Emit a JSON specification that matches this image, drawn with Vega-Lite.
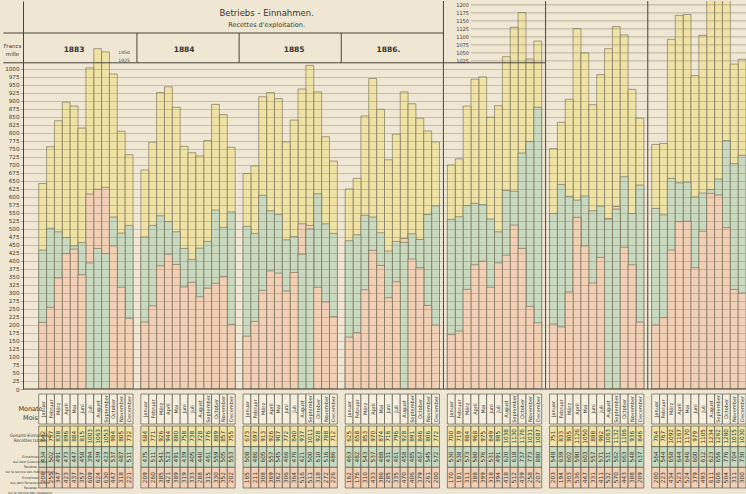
{
"$schema":"https://vega.github.io/schema/vega-lite/v6.json",
"background":"#efe7d3",
"padding":0,
"spacing":0,
"config":{"view":{"stroke":null},"font":"DejaVu Sans","concat":{"spacing":0}},
"datasets":{
"main":[
{"ym":"1883-01","mn":"Januar","t":642,"g":434,"p":208},
{"ym":"1883-02","mn":"Februar","t":757,"g":502,"p":255},
{"ym":"1883-03","mn":"März","t":838,"g":491,"p":347},
{"ym":"1883-04","mn":"April","t":896,"g":473,"p":423},
{"ym":"1883-05","mn":"Mai","t":884,"g":447,"p":437},
{"ym":"1883-06","mn":"Juni","t":815,"g":458,"p":357},
{"ym":"1883-07","mn":"Juli","t":1003,"g":394,"p":609},
{"ym":"1883-08","mn":"August","t":1063,"g":439,"p":624},
{"ym":"1883-09","mn":"September","t":1053,"g":423,"p":630},
{"ym":"1883-10","mn":"October","t":984,"g":537,"p":447},
{"ym":"1883-11","mn":"November","t":805,"g":487,"p":318},
{"ym":"1883-12","mn":"December","t":732,"g":511,"p":221},
{"ym":"1884-01","mn":"Januar","t":684,"g":475,"p":209},
{"ym":"1884-02","mn":"Februar","t":771,"g":511,"p":260},
{"ym":"1884-03","mn":"März","t":926,"g":541,"p":385},
{"ym":"1884-04","mn":"April","t":944,"g":523,"p":421},
{"ym":"1884-05","mn":"Mai","t":880,"g":491,"p":389},
{"ym":"1884-06","mn":"Juni","t":758,"g":439,"p":319},
{"ym":"1884-07","mn":"Juli","t":738,"g":405,"p":333},
{"ym":"1884-08","mn":"August","t":728,"g":440,"p":288},
{"ym":"1884-09","mn":"September","t":776,"g":461,"p":315},
{"ym":"1884-10","mn":"October","t":889,"g":559,"p":330},
{"ym":"1884-11","mn":"November","t":857,"g":505,"p":352},
{"ym":"1884-12","mn":"December","t":755,"g":553,"p":202},
{"ym":"1885-01","mn":"Januar","t":673,"g":508,"p":165},
{"ym":"1885-02","mn":"Februar","t":697,"g":486,"p":211},
{"ym":"1885-03","mn":"März","t":913,"g":605,"p":308},
{"ym":"1885-04","mn":"April","t":926,"g":557,"p":369},
{"ym":"1885-05","mn":"Mai","t":907,"g":545,"p":362},
{"ym":"1885-06","mn":"Juni","t":772,"g":466,"p":306},
{"ym":"1885-07","mn":"Juli","t":840,"g":476,"p":364},
{"ym":"1885-08","mn":"August","t":937,"g":421,"p":516},
{"ym":"1885-09","mn":"September","t":1011,"g":500,"p":511},
{"ym":"1885-10","mn":"October","t":928,"g":610,"p":318},
{"ym":"1885-11","mn":"November","t":788,"g":516,"p":272},
{"ym":"1885-12","mn":"December","t":712,"g":486,"p":226},
{"ym":"1886-01","mn":"Januar","t":625,"g":463,"p":162},
{"ym":"1886-02","mn":"Februar","t":658,"g":482,"p":176},
{"ym":"1886-03","mn":"März","t":853,"g":543,"p":310},
{"ym":"1886-04","mn":"April","t":970,"g":537,"p":433},
{"ym":"1886-05","mn":"Mai","t":874,"g":488,"p":386},
{"ym":"1886-06","mn":"Juni","t":716,"g":431,"p":285},
{"ym":"1886-07","mn":"Juli","t":796,"g":461,"p":335},
{"ym":"1886-08","mn":"August","t":928,"g":458,"p":470},
{"ym":"1886-09","mn":"September","t":891,"g":485,"p":406},
{"ym":"1886-10","mn":"October","t":846,"g":467,"p":379},
{"ym":"1886-11","mn":"November","t":806,"g":545,"p":261},
{"ym":"1886-12","mn":"December","t":772,"g":572,"p":200},
{"ym":"1887-01","mn":"Januar","t":700,"g":530,"p":170},
{"ym":"1887-02","mn":"Februar","t":719,"g":538,"p":181},
{"ym":"1887-03","mn":"März","t":884,"g":573,"p":311},
{"ym":"1887-04","mn":"April","t":968,"g":580,"p":388},
{"ym":"1887-05","mn":"Mai","t":975,"g":576,"p":399},
{"ym":"1887-06","mn":"Juni","t":849,"g":531,"p":318},
{"ym":"1887-07","mn":"Juli","t":885,"g":491,"p":394},
{"ym":"1887-08","mn":"August","t":1038,"g":620,"p":418},
{"ym":"1887-09","mn":"September","t":1130,"g":618,"p":512},
{"ym":"1887-10","mn":"October","t":1176,"g":737,"p":439},
{"ym":"1887-11","mn":"November","t":1031,"g":773,"p":258},
{"ym":"1887-12","mn":"December","t":1087,"g":880,"p":207},
{"ym":"1888-01","mn":"Januar","t":751,"g":548,"p":203},
{"ym":"1888-02","mn":"Februar","t":833,"g":639,"p":194},
{"ym":"1888-03","mn":"März","t":905,"g":602,"p":303},
{"ym":"1888-04","mn":"April","t":1126,"g":590,"p":536},
{"ym":"1888-05","mn":"Mai","t":1050,"g":603,"p":447},
{"ym":"1888-06","mn":"Juni","t":888,"g":557,"p":331},
{"ym":"1888-07","mn":"Juli","t":982,"g":571,"p":411},
{"ym":"1888-08","mn":"August","t":1063,"g":531,"p":532},
{"ym":"1888-09","mn":"September","t":1132,"g":562,"p":570},
{"ym":"1888-10","mn":"October","t":1106,"g":663,"p":443},
{"ym":"1888-11","mn":"November","t":936,"g":548,"p":388},
{"ym":"1888-12","mn":"December","t":846,"g":637,"p":209},
{"ym":"1889-01","mn":"Januar","t":764,"g":564,"p":200},
{"ym":"1889-02","mn":"Februar","t":767,"g":544,"p":223},
{"ym":"1889-03","mn":"März","t":1092,"g":658,"p":434},
{"ym":"1889-04","mn":"April","t":1167,"g":644,"p":523},
{"ym":"1889-05","mn":"Mai","t":1170,"g":646,"p":524},
{"ym":"1889-06","mn":"Juni","t":979,"g":600,"p":379},
{"ym":"1889-07","mn":"Juli","t":1105,"g":612,"p":493},
{"ym":"1889-08","mn":"August","t":1234,"g":623,"p":611},
{"ym":"1889-09","mn":"September","t":1262,"g":656,"p":606},
{"ym":"1889-10","mn":"October","t":1280,"g":776,"p":504},
{"ym":"1889-11","mn":"November","t":1015,"g":704,"p":311},
{"ym":"1889-12","mn":"December","t":1030,"g":730,"p":300}
],
"up":[{"v":1025},{"v":1050},{"v":1075},{"v":1100},{"v":1125},{"v":1150},{"v":1175},{"v":1200}],
"years":[{"k":"1883-05","label":"1883"},{"k":"1884-06","label":"1884"},{"k":"1885-07","label":"1885"},{"k":"1886-06","label":"1886."}],
"sepHead":[{"k":"1883-13"},{"k":"1884-13"},{"k":"1885-13"}],
"sepFull":[{"k":"1886-13"},{"k":"1887-13"},{"k":"1888-13"}]
},
"vconcat":[
{
"width":723,"height":388,
"resolve":{"axis":{"y":"independent"}},
"layer":[
{"data":{"name":"main"},
 "transform":[{"fold":["t","g","p"],"as":["s","val"]}],
 "mark":{"type":"bar","stroke":"#6d6752","strokeWidth":0.6,"clip":true},
 "encoding":{
  "x":{"field":"ym","type":"ordinal","scale":{"domain":["1883-01","1883-02","1883-03","1883-04","1883-05","1883-06","1883-07","1883-08","1883-09","1883-10","1883-11","1883-12","1883-13","1884-01","1884-02","1884-03","1884-04","1884-05","1884-06","1884-07","1884-08","1884-09","1884-10","1884-11","1884-12","1884-13","1885-01","1885-02","1885-03","1885-04","1885-05","1885-06","1885-07","1885-08","1885-09","1885-10","1885-11","1885-12","1885-13","1886-01","1886-02","1886-03","1886-04","1886-05","1886-06","1886-07","1886-08","1886-09","1886-10","1886-11","1886-12","1886-13","1887-01","1887-02","1887-03","1887-04","1887-05","1887-06","1887-07","1887-08","1887-09","1887-10","1887-11","1887-12","1887-13","1888-01","1888-02","1888-03","1888-04","1888-05","1888-06","1888-07","1888-08","1888-09","1888-10","1888-11","1888-12","1888-13","1889-01","1889-02","1889-03","1889-04","1889-05","1889-06","1889-07","1889-08","1889-09","1889-10","1889-11","1889-12"],"paddingInner":0,"paddingOuter":2.25,"align":1},"axis":null},
  "y":{"field":"val","type":"quantitative","stack":null,"scale":{"domain":[0,1212],"nice":false,"zero":false},
   "axis":{"orient":"left","values":[0,25,50,75,100,125,150,175,200,225,250,275,300,325,350,375,400,425,450,475,500,525,550,575,600,625,650,675,700,725,750,775,800,825,850,875,900,925,950,975,1000],
    "format":"d","grid":true,"gridColor":"#857b69","gridWidth":0.6,"gridOpacity":0.6,"zindex":1,
    "domain":true,"domainColor":"#4a4439","domainWidth":1,
    "ticks":true,"tickSize":3,"tickColor":"#857b69","tickWidth":0.6,
    "labelFontSize":5.6,"labelColor":"#3b362e","labelPadding":1,"labelOverlap":false,
    "minExtent":23,"maxExtent":23,
    "title":["Francs","mille"],"titleAngle":0,"titleFontSize":5.5,"titleFontWeight":"normal","titleColor":"#3b362e",
    "titleAlign":"center","titleBaseline":"top","titleX":-11,"titleY":42,"titleLineHeight":8}},
  "color":{"field":"s","type":"nominal","scale":{"domain":["t","g","p"],"range":["#eee2a4","#c9d9bf","#f0cfb5"]},"legend":null},
  "order":{"field":"val","type":"quantitative","sort":"descending"}
 }},
{"data":{"values":[{"v":1112}]},
 "mark":{"type":"rule","color":"#4a4439","strokeWidth":1},
 "encoding":{
  "x":{"datum":"1883-01","type":"ordinal","bandPosition":-4.5},
  "x2":{"datum":"1886-13","bandPosition":0.5},
  "y":{"field":"v","type":"quantitative","axis":null}
 }},
{"data":{"values":[{"v":1019}]},
 "mark":{"type":"rule","color":"#4a4439","strokeWidth":1},
 "encoding":{
  "x":{"datum":"1883-01","type":"ordinal","bandPosition":-4.5},
  "x2":{"datum":"1887-13","bandPosition":0.5},
  "y":{"field":"v","type":"quantitative","axis":null}
 }},
{"data":{"name":"up"},
 "mark":{"type":"rule","color":"#857b69","strokeWidth":0.6,"opacity":0.8},
 "encoding":{
  "x":{"datum":"1887-04","type":"ordinal","bandPosition":0},
  "x2":{"datum":"1889-12","bandPosition":1},
  "y":{"field":"v","type":"quantitative","axis":null}
 }},
{"data":{"name":"up"},
 "mark":{"type":"text","fontSize":5,"color":"#3b362e","align":"right","baseline":"middle","dx":-2},
 "encoding":{
  "x":{"datum":"1887-04","type":"ordinal","bandPosition":0},
  "y":{"field":"v","type":"quantitative","axis":null},
  "text":{"field":"v","type":"quantitative","format":"d"}
 }},
{"data":{"values":[{"v":1050},{"v":1025}]},
 "mark":{"type":"text","fontSize":4.5,"color":"#3b362e","align":"left","baseline":"middle","dx":1},
 "encoding":{
  "x":{"datum":"1883-11","type":"ordinal","bandPosition":0},
  "y":{"field":"v","type":"quantitative","axis":null},
  "text":{"field":"v","type":"quantitative","format":"d"}
 }},
{"data":{"name":"years"},
 "mark":{"type":"text","fontSize":7.5,"fontWeight":"bold","color":"#3b362e","baseline":"middle"},
 "encoding":{
  "x":{"field":"k","type":"ordinal"},
  "y":{"datum":1058,"type":"quantitative","axis":null},
  "text":{"field":"label","type":"nominal"}
 }},
{"data":{"values":[{}]},
 "mark":{"type":"text","text":"Betriebs - Einnahmen.","fontSize":8.5,"color":"#3b362e","baseline":"middle"},
 "encoding":{
  "x":{"datum":"1885-04","type":"ordinal","bandPosition":0},
  "y":{"datum":1175,"type":"quantitative","axis":null}
 }},
{"data":{"values":[{}]},
 "mark":{"type":"text","text":"Recettes d'exploitation.","fontSize":6.5,"color":"#3b362e","baseline":"middle"},
 "encoding":{
  "x":{"datum":"1885-04","type":"ordinal","bandPosition":0},
  "y":{"datum":1138,"type":"quantitative","axis":null}
 }},
{"data":{"name":"sepHead"},
 "mark":{"type":"rule","color":"#4a4439","strokeWidth":1},
 "encoding":{
  "x":{"field":"k","type":"ordinal","bandPosition":0.5},
  "y":{"datum":1019,"type":"quantitative","axis":null},
  "y2":{"datum":1112}
 }},
{"data":{"name":"sepFull"},
 "mark":{"type":"rule","color":"#4a4439","strokeWidth":1},
 "encoding":{
  "x":{"field":"k","type":"ordinal","bandPosition":0.5}
 }},
{"data":{"values":[{"v":0}]},
 "mark":{"type":"rule","color":"#4a4439","strokeWidth":1.2},
 "encoding":{
  "y":{"field":"v","type":"quantitative","axis":null}
 }}
]
},
{
"width":723,"height":30,
"data":{"name":"main"},
"layer":[
{"mark":{"type":"rect","fill":"#f4eede","stroke":"#4a4439","strokeWidth":0.6},
 "encoding":{
  "x":{"field":"ym","type":"ordinal","scale":{"domain":["1883-01","1883-02","1883-03","1883-04","1883-05","1883-06","1883-07","1883-08","1883-09","1883-10","1883-11","1883-12","1883-13","1884-01","1884-02","1884-03","1884-04","1884-05","1884-06","1884-07","1884-08","1884-09","1884-10","1884-11","1884-12","1884-13","1885-01","1885-02","1885-03","1885-04","1885-05","1885-06","1885-07","1885-08","1885-09","1885-10","1885-11","1885-12","1885-13","1886-01","1886-02","1886-03","1886-04","1886-05","1886-06","1886-07","1886-08","1886-09","1886-10","1886-11","1886-12","1886-13","1887-01","1887-02","1887-03","1887-04","1887-05","1887-06","1887-07","1887-08","1887-09","1887-10","1887-11","1887-12","1887-13","1888-01","1888-02","1888-03","1888-04","1888-05","1888-06","1888-07","1888-08","1888-09","1888-10","1888-11","1888-12","1888-13","1889-01","1889-02","1889-03","1889-04","1889-05","1889-06","1889-07","1889-08","1889-09","1889-10","1889-11","1889-12"],"paddingInner":0,"paddingOuter":2.25,"align":1},"axis":null},
  "y":{"datum":"Monate","type":"nominal","scale":{"paddingInner":0,"paddingOuter":0},
   "axis":{"title":null,"ticks":false,"domain":false,"labelExpr":"['Monate','Mois']","labelFontSize":6.5,"labelAlign":"center","labelBaseline":"middle","labelPadding":-7,"labelLineHeight":9,"labelColor":"#3b362e","minExtent":23,"maxExtent":23}}
 }},
{"mark":{"type":"text","angle":270,"fontSize":5,"color":"#3b362e","baseline":"middle","align":"center"},
 "encoding":{
  "x":{"field":"ym","type":"ordinal"},
  "y":{"datum":"Monate","type":"nominal"},
  "text":{"field":"mn","type":"nominal"}
 }}
]
},
{
"width":723,"height":62,
"data":{"name":"main"},
"transform":[{"fold":["t","g","p"],"as":["s","val"]}],
"layer":[
{"mark":{"type":"rect","stroke":"#4a4439","strokeWidth":0.6},
 "encoding":{
  "x":{"field":"ym","type":"ordinal","scale":{"domain":["1883-01","1883-02","1883-03","1883-04","1883-05","1883-06","1883-07","1883-08","1883-09","1883-10","1883-11","1883-12","1883-13","1884-01","1884-02","1884-03","1884-04","1884-05","1884-06","1884-07","1884-08","1884-09","1884-10","1884-11","1884-12","1884-13","1885-01","1885-02","1885-03","1885-04","1885-05","1885-06","1885-07","1885-08","1885-09","1885-10","1885-11","1885-12","1885-13","1886-01","1886-02","1886-03","1886-04","1886-05","1886-06","1886-07","1886-08","1886-09","1886-10","1886-11","1886-12","1886-13","1887-01","1887-02","1887-03","1887-04","1887-05","1887-06","1887-07","1887-08","1887-09","1887-10","1887-11","1887-12","1887-13","1888-01","1888-02","1888-03","1888-04","1888-05","1888-06","1888-07","1888-08","1888-09","1888-10","1888-11","1888-12","1888-13","1889-01","1889-02","1889-03","1889-04","1889-05","1889-06","1889-07","1889-08","1889-09","1889-10","1889-11","1889-12"],"paddingInner":0,"paddingOuter":2.25,"align":1},"axis":null},
  "y":{"field":"s","type":"nominal","scale":{"domain":["t","g","p"],"paddingInner":0,"paddingOuter":0},
   "axis":{"title":null,"ticks":false,"domain":false,
    "labelExpr":"datum.value == 't' ? ['Gesamt-Einnahmen','Recettes totales'] : datum.value == 'g' ? ['Einnahmen','aus dem Güterverkehr.','Recettes','sur le service des marchandises.'] : ['Einnahmen','aus dem Personenverkehr.','Recettes','sur le service des voyageurs.']",
    "labelFontSize":{"condition":{"test":"datum.value == 't'","value":4.6},"value":3.4},
    "labelFont":"DejaVu Sans Condensed",
    "labelAlign":"center","labelBaseline":"middle","labelPadding":-7,"labelLineHeight":5,"labelLimit":60,"labelColor":"#3b362e","minExtent":23,"maxExtent":23}},
  "fill":{"field":"s","type":"nominal","scale":{"domain":["t","g","p"],"range":["#efe4a6","#c8d9bf","#f0cfb6"]},"legend":null}
 }},
{"mark":{"type":"text","angle":270,"fontSize":5.8,"color":"#3b362e","baseline":"middle","align":"center"},
 "encoding":{
  "x":{"field":"ym","type":"ordinal"},
  "y":{"field":"s","type":"nominal"},
  "text":{"field":"val","type":"quantitative","format":"d"}
 }}
]
}
]
}
